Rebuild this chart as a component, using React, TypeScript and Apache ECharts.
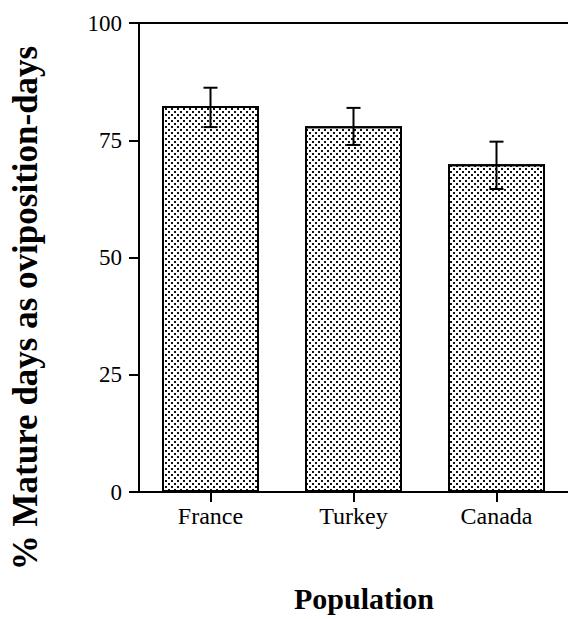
import React, { useEffect, useRef } from "react";
import * as echarts from "echarts";

const categories = ["France", "Turkey", "Canada"];
const meanValues = [82.3, 78.0, 69.9];
const lowerValues = [77.8, 74.0, 64.6];
const upperValues = [86.2, 81.9, 74.7];
const yTicks = { min: 0, max: 100, interval: 25 };

const SERIF = "Liberation Serif, Times New Roman, serif";

export default function App() {
  const ref = useRef<HTMLDivElement>(null);
  useEffect(() => {
    if (!ref.current) return;
    const chart = echarts.init(ref.current, undefined, { renderer: "svg" });
    const errData = categories.map((_, i) => [i, lowerValues[i], upperValues[i]]);
    chart.setOption({
      animation: false,
      backgroundColor: "#fff",
      textStyle: { fontFamily: SERIF },
      grid: { left: 139, top: 23, bottom: 127, right: -10, containLabel: false },
      xAxis: [
        {
          type: "category",
          data: categories,
          position: "bottom",
          axisLine: { show: true, lineStyle: { color: "#000", width: 2 } },
          axisTick: { show: true, alignWithLabel: true, length: 10, lineStyle: { color: "#000", width: 2 } },
          axisLabel: { color: "#000", fontFamily: SERIF, fontSize: 24, margin: 12 },
          splitLine: { show: false },
        },
        {
          type: "category",
          data: categories,
          position: "top",
          axisLine: { show: true, lineStyle: { color: "#000", width: 2 } },
          axisTick: { show: false },
          axisLabel: { show: false },
          splitLine: { show: false },
        },
      ],
      yAxis: {
        type: "value",
        min: yTicks.min,
        max: yTicks.max,
        interval: yTicks.interval,
        axisLine: { show: true, lineStyle: { color: "#000", width: 2 } },
        axisTick: { show: true, length: 10, lineStyle: { color: "#000", width: 2 } },
        axisLabel: { color: "#000", fontFamily: SERIF, fontSize: 23, margin: 17 },
        splitLine: { show: false },
      },
      graphic: [
        {
          type: "text",
          x: 25,
          y: 308,
          rotation: Math.PI / 2,
          style: {
            text: "% Mature days as oviposition-days",
            fontFamily: SERIF,
            fontSize: 35,
            fontWeight: "bold",
            fill: "#000",
            textAlign: "center",
            textVerticalAlign: "middle",
          },
        },
        {
          type: "text",
          x: 364,
          y: 598,
          style: {
            text: "Population",
            fontFamily: SERIF,
            fontSize: 30,
            fontWeight: "bold",
            fill: "#000",
            textAlign: "center",
            textVerticalAlign: "middle",
          },
        },
      ],
      series: [
        {
          type: "bar",
          data: meanValues,
          barWidth: 97,
          itemStyle: {
            color: "#fff",
            borderColor: "#000",
            borderWidth: 2,
            decal: {
              symbol: "rect",
              symbolSize: 1,
              color: "#111",
              dashArrayX: [
                [2, 4],
                [0, 3, 2, 1],
              ],
              dashArrayY: [2, 1],
            },
          },
        },
        {
          type: "custom",
          data: errData,
          encode: { x: 0, y: [1, 2] },
          z: 10,
          renderItem: (params: any, api: any) => {
            const idx = api.value(0);
            const lo = api.coord([idx, api.value(1)]);
            const hi = api.coord([idx, api.value(2)]);
            const hw = 7;
            const style = { stroke: "#000", lineWidth: 2 };
            return {
              type: "group",
              children: [
                { type: "line", shape: { x1: lo[0], y1: lo[1], x2: hi[0], y2: hi[1] }, style },
                { type: "line", shape: { x1: hi[0] - hw, y1: hi[1], x2: hi[0] + hw, y2: hi[1] }, style },
                { type: "line", shape: { x1: lo[0] - hw, y1: lo[1], x2: lo[0] + hw, y2: lo[1] }, style },
              ],
            };
          },
        },
      ],
    });
    return () => chart.dispose();
  }, []);
  return (
    <div
      ref={ref}
      style={{ position: "absolute", left: 0, top: 0, width: 568, height: 619 }}
    />
  );
}
